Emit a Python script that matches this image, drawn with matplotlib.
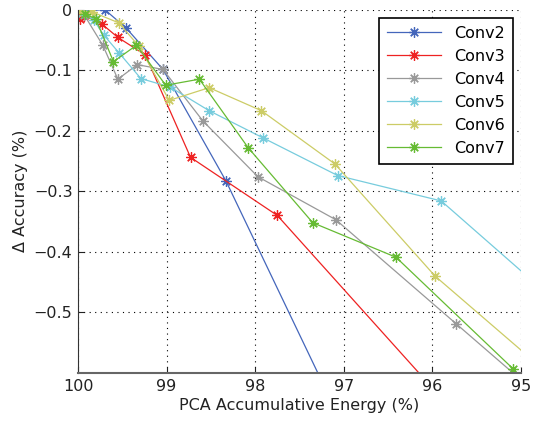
import matplotlib
matplotlib.use("Agg")
import matplotlib.pyplot as plt

plt.rcParams['font.family'] = ['DejaVu Sans']

# PCA accumulative energy (%) and accuracy change (%) per layer
conv2_x = [100.0, 99.95, 99.70, 99.46, 99.04, 98.33, 96.90]
conv2_y = [-0.002, -0.003, 0.000, -0.030, -0.099, -0.283, -0.720]

conv3_x = [100.0, 99.98, 99.93, 99.73, 99.55, 99.24, 98.73, 97.75, 95.50]
conv3_y = [-0.005, -0.015, -0.010, -0.024, -0.046, -0.075, -0.244, -0.340, -0.706]

conv4_x = [99.93, 99.72, 99.55, 99.33, 99.04, 98.59, 97.97, 97.09, 95.73, 94.90]
conv4_y = [-0.009, -0.059, -0.115, -0.091, -0.099, -0.184, -0.276, -0.347, -0.519, -0.624]

conv5_x = [99.95, 99.82, 99.71, 99.54, 99.29, 98.96, 98.52, 97.91, 97.07, 95.90, 94.80]
conv5_y = [-0.005, -0.018, -0.042, -0.071, -0.114, -0.128, -0.167, -0.212, -0.274, -0.316, -0.457]

conv6_x = [99.98, 99.84, 99.54, 99.31, 98.97, 98.52, 97.93, 97.10, 95.97, 94.70]
conv6_y = [-0.002, -0.004, -0.022, -0.061, -0.150, -0.129, -0.167, -0.255, -0.440, -0.600]

conv7_x = [99.92, 99.80, 99.60, 99.34, 99.01, 98.63, 98.08, 97.35, 96.41, 95.09]
conv7_y = [-0.008, -0.015, -0.086, -0.059, -0.125, -0.115, -0.228, -0.352, -0.409, -0.593]

labels = ['Conv2', 'Conv3', 'Conv4', 'Conv5', 'Conv6', 'Conv7']
colors = ['#4466bb', '#ee2222', '#999999', '#77ccdd', '#cccc66', '#66bb33']
series = [(conv2_x, conv2_y), (conv3_x, conv3_y), (conv4_x, conv4_y),
          (conv5_x, conv5_y), (conv6_x, conv6_y), (conv7_x, conv7_y)]

x_ticks = [100, 99, 98, 97, 96, 95]
y_ticks = [0, -0.1, -0.2, -0.3, -0.4, -0.5]
y_ticklabels = ['0', '\u22120.1', '\u22120.2', '\u22120.3', '\u22120.4', '\u22120.5']

fig = plt.figure(figsize=(5.35, 4.25), dpi=100)
ax = fig.add_axes([0.1458, 0.1224, 0.8280, 0.8552])

asterisk = (8, 2, 0)
for (xs, ys), lab, col in zip(series, labels, colors):
    ax.plot(xs, ys, color=col, lw=0.9, marker=asterisk, markersize=7.5,
            markeredgewidth=0.9, label=lab, clip_on=True)

ax.set_xlim(100, 95)
ax.set_ylim(-0.6, 0)
ax.set_xticks(x_ticks)
ax.set_xticklabels([str(t) for t in x_ticks])
ax.set_yticks(y_ticks)
ax.set_yticklabels(y_ticklabels)

ax.grid(True, linestyle=(0, (1, 4)), color='black', linewidth=0.8)
ax.tick_params(direction='in', length=4, labelsize=11.5, colors='#222222',
               pad=4)
for side in ['top', 'right']:
    ax.spines[side].set_visible(False)
ax.spines['left'].set_color('#333333')
ax.spines['bottom'].set_color('#666666')
ax.spines['bottom'].set_linewidth(1.5)

ax.set_xlabel('PCA Accumulative Energy (%)', fontsize=11.5, color='#222222',
              labelpad=3)
ax.set_ylabel('\u0394 Accuracy (%)', fontsize=11.5, color='#222222', labelpad=4)

leg = ax.legend(loc='upper right', bbox_to_anchor=(0.982, 0.977),
                borderaxespad=0, fontsize=11.5, handlelength=3.4,
                labelspacing=0.5, fancybox=False, framealpha=1,
                edgecolor='black', borderpad=0.5)
leg.get_frame().set_linewidth(1.2)

fig.savefig('out.png', dpi=100)
